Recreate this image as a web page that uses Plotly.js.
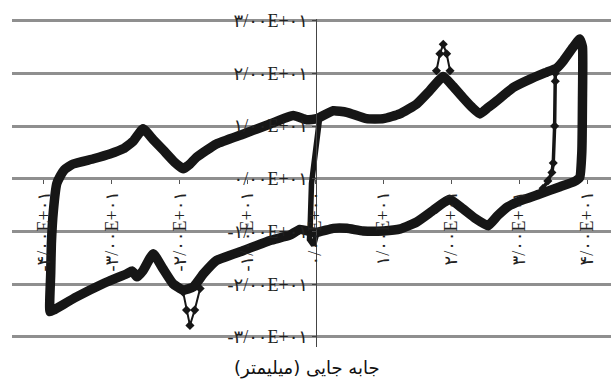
<!DOCTYPE html>
<html>
<head>
<meta charset="utf-8">
<script src="https://cdn.plot.ly/plotly-3.0.1.min.js"></script>
<style>html,body{margin:0;padding:0;background:#fff;}#chart{width:611px;height:383px;}</style>
</head>
<body>
<div id="chart"></div>
<script>
// Tick values and labels
const xTickVals = [-40, -30, -20, -10, 0, 10, 20, 30, 40];
const xTickText = ["-۴/۰۰E+۰۱", "-۳/۰۰E+۰۱", "-۲/۰۰E+۰۱", "-۱/۰۰E+۰۱", "۰/۰۰E+۰۰", "۱/۰۰E+۰۱", "۲/۰۰E+۰۱", "۳/۰۰E+۰۱", "۴/۰۰E+۰۱"];
const yTickVals = [-30, -20, -10, 0, 10, 20, 30];
const yTickText = ["-۳/۰۰E+۰۱", "-۲/۰۰E+۰۱", "-۱/۰۰E+۰۱", "۰/۰۰E+۰۱", "۱/۰۰E+۰۱", "۲/۰۰E+۰۱", "۳/۰۰E+۰۱"];
const xTitle = "جابه جایی (میلیمتر)";

// Outer hysteresis loop (displacement mm, force)
const loopX = [-39.1, -39.0, -38.9, -38.6, -38.1, -37.6, -37.0, -35.7, -32.7, -30.3, -28.3, -26.8, -25.4, -23.9, -22.4, -20.8, -19.5, -18.5, -17.5, -14.6, -10.6, -6.7, -3.3, -1.3, 0.2, 2.6, 4.6, 7.5, 10.0, 12.4, 14.9, 16.8, 18.8, 20.2, 21.7, 23.0, 24.2, 25.4, 26.7, 29.1, 31.6, 34.0, 35.5, 36.5, 37.9, 38.9, 39.3, 39.3, 39.2, 38.9, 38.0, 36.0, 33.0, 30.1, 28.3, 26.8, 25.4, 23.5, 21.5, 19.7, 17.3, 14.9, 12.5, 10.0, 7.0, 4.6, 2.6, 0.0, -2.3, -3.8, -6.7, -10.6, -14.6, -16.5, -18.0, -19.5, -21.0, -22.5, -23.9, -25.4, -26.3, -27.0, -27.8, -31.3, -35.2, -38.6, -39.1];
const loopY = [-25.2, -18.0, -12.3, -6.0, -0.9, 0.5, 1.7, 2.8, 3.8, 4.7, 5.7, 7.2, 9.5, 7.4, 5.4, 3.2, 1.9, 2.8, 4.1, 6.6, 8.5, 10.4, 12.0, 11.2, 11.4, 12.9, 12.6, 11.4, 11.4, 12.3, 14.2, 16.7, 19.4, 17.6, 15.4, 13.6, 12.3, 13.5, 14.8, 17.3, 18.9, 20.2, 21.0, 22.4, 24.9, 26.5, 25.0, 15.0, 5.0, 0.3, -0.6, -1.5, -2.9, -4.2, -5.3, -7.0, -8.9, -7.5, -5.5, -3.9, -6.0, -8.2, -9.5, -9.9, -9.9, -9.4, -9.4, -10.2, -9.6, -10.7, -11.7, -13.6, -15.5, -18.0, -20.5, -21.1, -19.9, -17.0, -14.2, -17.4, -18.6, -17.5, -18.0, -19.9, -22.4, -24.9, -25.2];

// Initial loading near zero
const centerX = [0.2, -0.3, -0.9, -0.8, -0.8, -0.6, -0.3, 0.65, 0.6];
const centerY = [-10.3, -12.6, -11.5, -10.0, -9.2, -0.9, 2.2, 10.4, 11.5];

// Inner cycle unloading branch
const innerX = [35.3, 35.3, 35.2, 35.0, 34.8, 34.2, 33.5];
const innerY = [20.0, 18.5, 10.0, 3.0, 1.2, -0.4, -1.8];

// Peak spikes
const spikeUpX = [17.8, 18.3, 18.8, 19.3, 19.8];
const spikeUpY = [20.5, 23.7, 25.5, 23.7, 20.5];
const spikeDnX = [-19.5, -19.0, -18.5, -17.8, -17.0];
const spikeDnY = [-21.5, -24.9, -27.8, -24.9, -20.8];

const xMin = -44.7, xMax = 43.5, yMin = -31.9, yMax = 30.3;
const ink = "#161616";
const tickFont = {family: "Liberation Serif, DejaVu Serif, DejaVu Sans, serif", size: 18, color: "#222"};

const traces = [
  {x: loopX, y: loopY, mode: "lines", line: {color: ink, width: 9.5, shape: "spline", smoothing: 0.4}, hoverinfo: "skip"},
  {x: centerX, y: centerY, mode: "lines", line: {color: ink, width: 5.5}, hoverinfo: "skip"},
  {x: innerX, y: innerY, mode: "lines+markers", line: {color: ink, width: 3.5}, marker: {symbol: "diamond", size: 7, color: ink}, hoverinfo: "skip"},
  {x: spikeUpX, y: spikeUpY, mode: "lines+markers", line: {color: ink, width: 2}, marker: {symbol: "diamond", size: 7, color: ink}, hoverinfo: "skip"},
  {x: spikeDnX, y: spikeDnY, mode: "lines+markers", line: {color: ink, width: 2}, marker: {symbol: "diamond", size: 7, color: ink}, hoverinfo: "skip"}
];

const layout = {
  width: 611, height: 383,
  margin: {l: 12, r: 0, t: 19, b: 36},
  paper_bgcolor: "#fff", plot_bgcolor: "#fff",
  showlegend: false,
  xaxis: {
    range: [xMin, xMax], tickvals: xTickVals, ticktext: xTickText, tickangle: -90,
    showgrid: false, zeroline: false, showline: false,
    ticks: "outside", ticklen: 4, tickcolor: "#555", tickwidth: 1,
    anchor: "free", position: (0 - yMin) / (yMax - yMin),
    tickfont: tickFont
  },
  yaxis: {
    range: [yMin, yMax], tickvals: yTickVals, ticktext: yTickText,
    showgrid: true, gridcolor: "#8f8f8f", gridwidth: 3,
    zeroline: false, showline: true, linecolor: "#444", linewidth: 1,
    ticks: "outside", ticklen: 4, tickcolor: "#444",
    anchor: "free", position: (0 - xMin) / (xMax - xMin),
    tickfont: tickFont
  },
  annotations: [{
    text: xTitle, xref: "paper", yref: "paper", x: 0.4925, y: -0.065,
    xanchor: "center", yanchor: "middle", showarrow: false,
    font: {family: "DejaVu Sans, Noto Sans, sans-serif", size: 18, color: "#111"}
  }]
};

Plotly.newPlot("chart", traces, layout, {staticPlot: true, displayModeBar: false});
</script>
</body>
</html>
